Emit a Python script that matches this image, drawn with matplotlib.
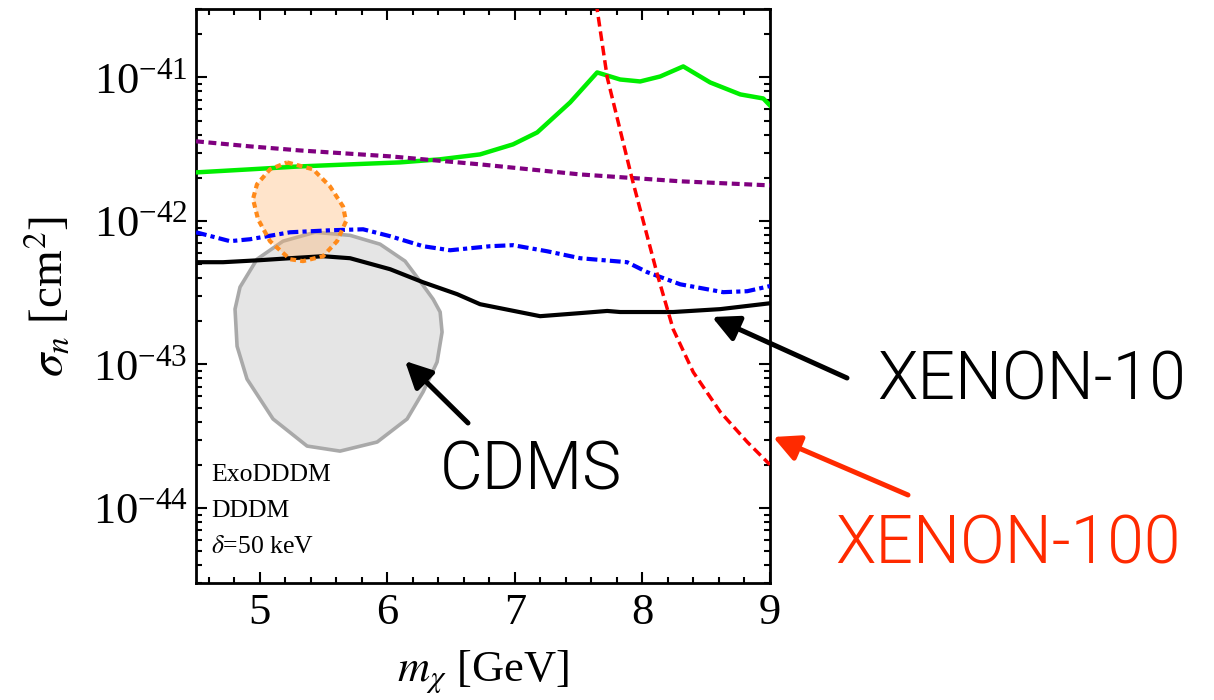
import matplotlib
matplotlib.use("Agg")
import matplotlib.pyplot as plt
from matplotlib.ticker import FixedLocator, LogFormatterMathtext, MultipleLocator, NullFormatter

plt.rcParams['font.family'] = 'serif'
plt.rcParams['font.serif'] = ['Liberation Serif', 'DejaVu Serif']
plt.rcParams['mathtext.fontset'] = 'stix'

# ---------------- data ----------------
# Green solid curve
green_m = [4.5, 4.924, 5.316, 5.708, 6.1, 6.414, 6.727, 6.986, 7.175, 7.433, 7.645,
           7.825, 7.982, 8.139, 8.32, 8.531, 8.767, 8.947, 9.0]
green_s = [2.18e-42, 2.29e-42, 2.40e-42, 2.48e-42, 2.56e-42, 2.69e-42, 2.91e-42, 3.42e-42,
           4.14e-42, 6.70e-42, 1.084e-41, 9.68e-42, 9.38e-42, 1.016e-41, 1.194e-41, 9.23e-42,
           7.62e-42, 7.14e-42, 6.38e-42]

# Purple dotted curve
purple_m = [4.5, 4.924, 5.316, 6.022, 6.727, 7.512, 8.296, 9.0]
purple_s = [3.59e-42, 3.31e-42, 3.10e-42, 2.82e-42, 2.48e-42, 2.11e-42, 1.89e-42, 1.77e-42]

# Blue dash-dot curve
blue_m = [4.5, 4.767, 4.924, 5.237, 5.551, 5.810, 6.022, 6.280, 6.492, 6.806, 6.986,
          7.253, 7.512, 7.880, 8.037, 8.296, 8.633, 8.822, 9.0]
blue_s = [8.34e-43, 7.23e-43, 7.46e-43, 8.34e-43, 8.61e-43, 8.75e-43, 7.83e-43, 6.67e-43,
          6.25e-43, 6.67e-43, 6.78e-43, 6.15e-43, 5.50e-43, 5.16e-43, 4.40e-43, 3.62e-43,
          3.19e-43, 3.24e-43, 3.52e-43]

# XENON-10 (black solid)
xe10_m = [4.5, 4.712, 5.002, 5.237, 5.496, 5.708, 6.022, 6.280, 6.547, 6.727, 7.198,
          7.512, 7.724, 7.825, 8.241, 8.610, 9.0]
xe10_s = [5.16e-43, 5.16e-43, 5.33e-43, 5.50e-43, 5.68e-43, 5.50e-43, 4.61e-43, 3.74e-43,
          3.09e-43, 2.63e-43, 2.17e-43, 2.28e-43, 2.36e-43, 2.32e-43, 2.32e-43, 2.43e-43,
          2.67e-43]

# XENON-100 (red dashed)
xe100_m = [7.637, 7.724, 7.920, 8.116, 8.241, 8.398, 8.610, 8.822, 9.0]
xe100_s = [3.33e-41, 1.0e-41, 1.95e-42, 4.26e-43, 1.76e-43, 8.85e-44, 4.67e-44, 2.88e-44, 2.00e-44]

# CDMS region outline (gray)
cdms_m = [5.433, 5.708, 5.943, 6.139, 6.257, 6.359, 6.414, 6.429, 6.390, 6.280, 6.155,
          5.920, 5.629, 5.371, 5.104, 4.900, 4.822, 4.806, 4.845, 4.978, 5.182]
cdms_s = [8.34e-43, 7.94e-43, 6.89e-43, 5.25e-43, 3.80e-43, 2.85e-43, 2.32e-43, 1.68e-43,
          1.04e-43, 6.43e-44, 4.17e-44, 2.88e-44, 2.49e-44, 2.70e-44, 4.17e-44, 7.91e-44,
          1.34e-43, 2.43e-43, 3.46e-43, 5.41e-43, 7.23e-43]

# Orange region outline
orange_m = [5.214, 5.418, 5.551, 5.653, 5.676, 5.606, 5.496, 5.339, 5.237, 5.080, 4.986,
            4.947, 4.978, 5.080]
orange_s = [2.56e-42, 2.29e-42, 1.74e-42, 1.26e-42, 9.95e-43, 7.23e-43, 5.68e-43, 5.25e-43,
            5.41e-43, 7.23e-43, 1.03e-42, 1.42e-42, 1.80e-42, 2.29e-42]

x_ticks = [5, 6, 7, 8, 9]
y_ticks = [1e-44, 1e-43, 1e-42, 1e-41]
x_range = (4.5, 9.0)
y_range = (3e-45, 3e-41)

# ---------------- figure ----------------
W, H = 1214, 700
fig = plt.figure(figsize=(W / 100, H / 100), dpi=100)
ax = fig.add_axes([196 / W, 1 - 583 / H, (770 - 196) / W, (583 - 9) / H])
ax.set_yscale('log')

# regions
ax.fill(cdms_m, cdms_s, facecolor='#e5e5e5', edgecolor='#a9a9a9', lw=2.6, zorder=1,
        joinstyle='round')
ax.fill(orange_m, orange_s, facecolor='#ffb36b', alpha=0.35, edgecolor='none', zorder=2)

# curves
ax.plot(green_m, green_s, color='#00ee00', lw=3.2, zorder=4, solid_joinstyle='round')
ax.plot(purple_m, purple_s, color='#800080', lw=3.0, dashes=(1.9, 1.1), zorder=4)
ax.plot(blue_m, blue_s, color='#0000ff', lw=3.0, dashes=(2.6, 1.0, 1.0, 1.0), zorder=4)
ax.plot(xe10_m, xe10_s, color='black', lw=3.0, zorder=5, solid_joinstyle='round')
ax.plot(xe100_m, xe100_s, color='#ff0000', lw=2.5, dashes=(2.8, 1.4), zorder=5)

# orange dotted border
om = list(orange_m) + [orange_m[0]]
os_ = list(orange_s) + [orange_s[0]]
ax.plot(om, os_, color='#ff8a1a', lw=3.0, dashes=(1.4, 1.0), zorder=6)

ax.set_xlim(*x_range)
ax.set_ylim(*y_range)

ax.set_xticks(x_ticks)
ax.xaxis.set_minor_locator(MultipleLocator(0.2))
ax.yaxis.set_major_locator(FixedLocator(y_ticks))
minor_y = [k * t for t in [1e-45] + y_ticks for k in range(2, 10)
           if y_range[0] <= k * t <= y_range[1]]
ax.yaxis.set_minor_locator(FixedLocator(minor_y))
ax.yaxis.set_major_formatter(LogFormatterMathtext())
ax.yaxis.set_minor_formatter(NullFormatter())

ax.tick_params(which='both', direction='in', top=True, right=True, width=1.5, colors='black')
ax.tick_params(which='major', length=8)
ax.tick_params(which='minor', length=4)
ax.tick_params(axis='x', which='major', labelsize=32, pad=7)
ax.tick_params(axis='y', which='major', labelsize=32, pad=6)
for s in ax.spines.values():
    s.set_linewidth(2.0)

ax.set_xlabel(r'$m_\chi$ [GeV]', fontsize=32, labelpad=11)
ax.set_ylabel(r'$\sigma_n$ [cm$^2$]', fontsize=34, labelpad=14)

# small labels inside the plot
def fx(px):
    return px / W

def fy(py):
    return 1 - py / H

for txt, base in [('ExoDDDM', 481), ('DDDM', 517), (r'$\delta$=50 keV', 553)]:
    fig.text(fx(211), fy(base), txt, fontsize=18.5, ha='left', va='baseline')

# annotations
ann_font = dict(family=['Roboto', 'DejaVu Sans'], weight=300, fontsize=47.5)
fig.text(fx(877), fy(400), 'XENON-10', color='black', ha='left', va='baseline', **ann_font)
fig.text(fx(440), fy(490), 'CDMS', color='black', ha='left', va='baseline', **ann_font)
fig.text(fx(835), fy(563), 'XENON-100', color='#ff2a00', ha='left', va='baseline', **ann_font)

def arrow(tail, tip, color):
    fig.add_artist(matplotlib.patches.FancyArrowPatch(
        (fx(tail[0]), fy(tail[1])), (fx(tip[0]), fy(tip[1])),
        transform=fig.transFigure, arrowstyle='-|>', mutation_scale=40,
        lw=3.6, color=color, shrinkA=0, shrinkB=0, zorder=10))

arrow((847, 378), (712, 317), 'black')
arrow((468, 423), (405, 361), 'black')
arrow((908, 495), (773, 437), '#ff2a00')

fig.savefig('out.png', dpi=100)
